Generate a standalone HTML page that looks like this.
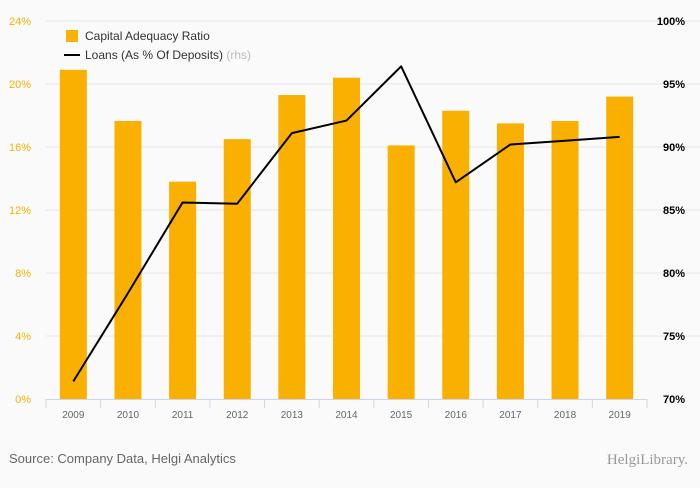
<!DOCTYPE html>
<html><head><meta charset="utf-8"><style>
body{margin:0;background:#fafafa;font-family:"Liberation Sans",sans-serif;}
#wrap{position:relative;width:700px;height:483px;background:#fafafa;}
</style></head><body>
<div id="wrap">
<svg id="chart" width="700" height="483"></svg>
</div>
<script>
const categories=["2009","2010","2011","2012","2013","2014","2015","2016","2017","2018","2019"];
const carValues=[20.9,17.65,13.8,16.5,19.3,20.4,16.1,18.3,17.5,17.65,19.2];
const loanValues=[71.4,78.4,85.6,85.5,91.1,92.1,96.4,87.2,90.2,90.5,90.8];
const leftTicks=[0,4,8,12,16,20,24];
const rightTicks=[70,75,80,85,90,95,100];
const NS="http://www.w3.org/2000/svg";
const svg=document.getElementById('chart');
const X0=46,X1=647,Y0=399,Y1=21;
const step=(X1-X0)/categories.length;
const xC=i=>X0+step*(i+0.5);
const yL=v=>Y0-(v-0)/24*(Y0-Y1);
const yR=v=>Y0-(v-70)/30*(Y0-Y1);
function mk(t,a,txt){const e=document.createElementNS(NS,t);for(const k in a)e.setAttribute(k,a[k]);if(txt!=null)e.textContent=txt;svg.appendChild(e);return e;}
leftTicks.forEach((v,i)=>{
 if(i>0){const g=mk('line',{x1:X0,x2:700,y1:yL(v),y2:yL(v),stroke:'#e6e6e6','stroke-width':1});
 
 }
 const t=mk('text',{x:31,y:yL(v)+4,'text-anchor':'end','font-size':11,fill:'#f9b000'},v+'%');
 
 
});
rightTicks.forEach(v=>{
 const t=mk('text',{x:685,y:yR(v)+4,'text-anchor':'end','font-size':11,'font-weight':'bold',fill:'#000'},v+'%');
 
 
});
carValues.forEach((v,i)=>{
 const b=mk('rect',{x:xC(i)-13.5,y:yL(v),width:27,height:Y0-yL(v),fill:'#f9b000'});
 
 
});
const ax=mk('line',{x1:X0,x2:X1,y1:Y0+0.5,y2:Y0+0.5,stroke:'#ccd6eb','stroke-width':1});


for(let i=0;i<=categories.length;i++){
 const tk=mk('line',{x1:X0+step*i,x2:X0+step*i,y1:Y0,y2:Y0+9,stroke:'#ccd6eb'});
 
 
}
categories.forEach((c,i)=>{
 const t=mk('text',{x:xC(i),y:418,'text-anchor':'middle','font-size':10,fill:'#666'},c);
 
 
});
const pts=loanValues.map((v,i)=>xC(i)+','+yR(v)).join(' ');
const ln=mk('polyline',{points:pts,fill:'none',stroke:'#000','stroke-width':2,'stroke-linejoin':'round'});


const l1=mk('rect',{x:66,y:30,width:12,height:12,fill:'#f9b000'});


const lt1=mk('text',{x:85,y:40,'font-size':12,fill:'#333'},'Capital Adequacy Ratio');


const l2=mk('line',{x1:64,x2:80,y1:55,y2:55,stroke:'#000','stroke-width':2});


const lt2=mk('text',{x:85,y:59,'font-size':12,fill:'#333'},'Loans (As % Of Deposits) ');


const rh=document.createElementNS(NS,'tspan');rh.setAttribute('fill','#bbb');rh.textContent='(rhs)';lt2.appendChild(rh);
const src=mk('text',{x:9,y:463,'font-size':13,fill:'#666'},'Source: Company Data, Helgi Analytics');


const lg=mk('text',{x:688,y:464,'text-anchor':'end','font-size':15,fill:'#999','font-family':'Liberation Serif, serif'},'HelgiLibrary.');


</script>
</body></html>
